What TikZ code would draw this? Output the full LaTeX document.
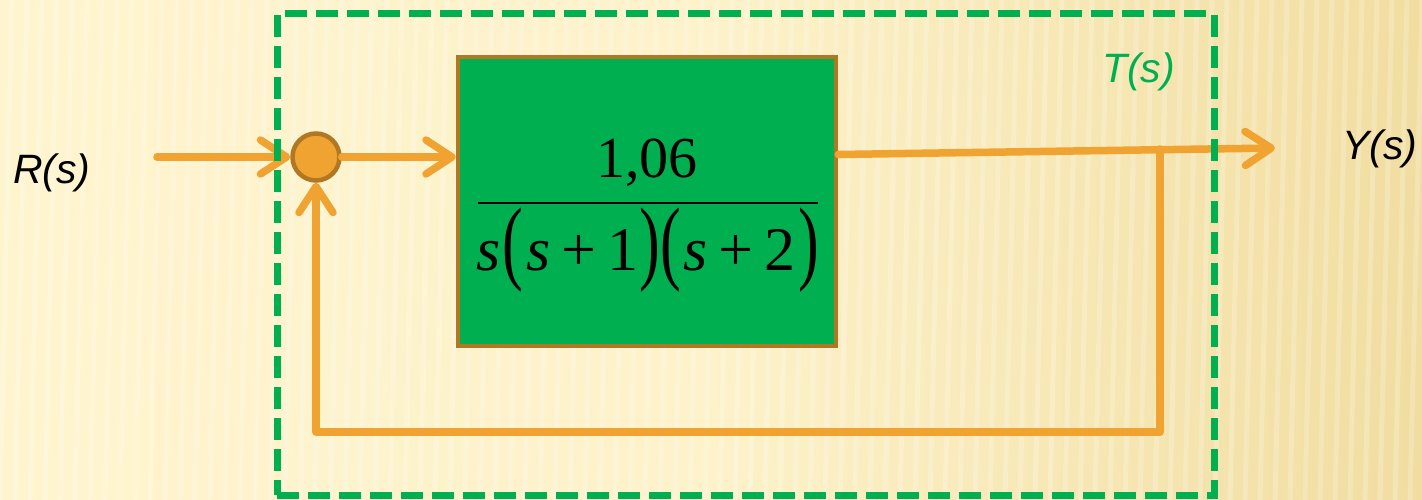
\documentclass[tikz,border=0pt]{standalone}
\usepackage{fontspec}
\setmainfont{Liberation Serif}
\setsansfont{Liberation Sans}
\usepackage{graphicx}
\usetikzlibrary{arrows.meta}
\definecolor{bgL}{HTML}{FEF4CE}
\definecolor{bgR}{HTML}{F1DDA0}
\definecolor{lineor}{HTML}{F0A330}
\definecolor{brownb}{HTML}{B07822}
\definecolor{greenb}{HTML}{00AF50}
\definecolor{greend}{HTML}{00B050}
\newcommand\tallp[1]{\raisebox{-0.04em}{\scalebox{1}[1.5]{#1}}}
\begin{document}
\begin{tikzpicture}[x=1pt,y=-1pt,
  arr/.style={draw=lineor, line width=7.5pt, line cap=round, line join=round,
    -{Straight Barb[length=26pt,width=34pt,round]}},
  sumnode/.style={circle, draw=brownb, fill=lineor, line width=4.5pt, minimum size=47pt, inner sep=0pt},
  blocknode/.style={rectangle, draw=brownb, fill=greenb, line width=4.5pt, minimum width=378pt, minimum height=289pt, inner sep=0pt},
  framebox/.style={rectangle, draw=greend, line width=7pt, dash pattern=on 22pt off 9pt, minimum width=937pt, minimum height=481pt, inner sep=0pt},
  lab/.style={font=\sffamily\itshape\fontsize{41}{41}\selectfont, inner sep=0pt, anchor=base west},
  frac/.style={font=\fontsize{58}{58}\selectfont, inner sep=0pt, anchor=base},
  stripe/.style={draw=white, opacity=0.22, line width=5pt}]
\useasboundingbox (0,0) rectangle (1422,500);
\shade[left color=bgL, right color=bgR, middle color=bgL!90!bgR] (0,0) rectangle (1422,500);
\foreach \i in {0,...,95} {
  \draw[stripe] (\i*15+12,0) -- (\i*15,500);
}
% blocks
\node[sumnode] (sum) at (316,157) {};
\node[blocknode] (G) at (647,201.5) {};
\coordinate (gout) at ([yshift=47pt]G.east);
\coordinate (yout) at (1275,148);
\coordinate (br) at (1160,149);
\coordinate (fbr) at (1160,432);
\coordinate (rin) at (157,157);
% connectors
\draw[arr] (rin) -- (sum.west);
\draw[arr] (sum.east) -- (G.west |- sum);
\draw[arr] (gout) -- (yout);
\draw[arr] (br) -- (fbr) -| (sum.south);
% fraction
\node[frac] (num) at (647,178) {1,06};
\draw[black, line width=2.5pt] (478,203) -- (818,203);
\node[frac, font=\fontsize{62}{62}\selectfont] (den) at (648,270) {\itshape s\upshape\hspace{2pt}\tallp{(}\hspace{3pt}\itshape s\upshape\hspace{11pt}+\hspace{11pt}1\hspace{1pt}\tallp{)}\tallp{(}\hspace{3pt}\itshape s\upshape\hspace{11pt}+\hspace{11pt}2\hspace{3pt}\tallp{)}};
% frame
\node[framebox] (T) at (745.5,254.5) {};
% labels
\node[lab] (R) at (13,183) {R(s)};
\node[lab] (Y) at (1342,160) {Y(s)};
\node[lab, text=greend] (Tl) at (1102,83) {T(s)};
\end{tikzpicture}
\end{document}
